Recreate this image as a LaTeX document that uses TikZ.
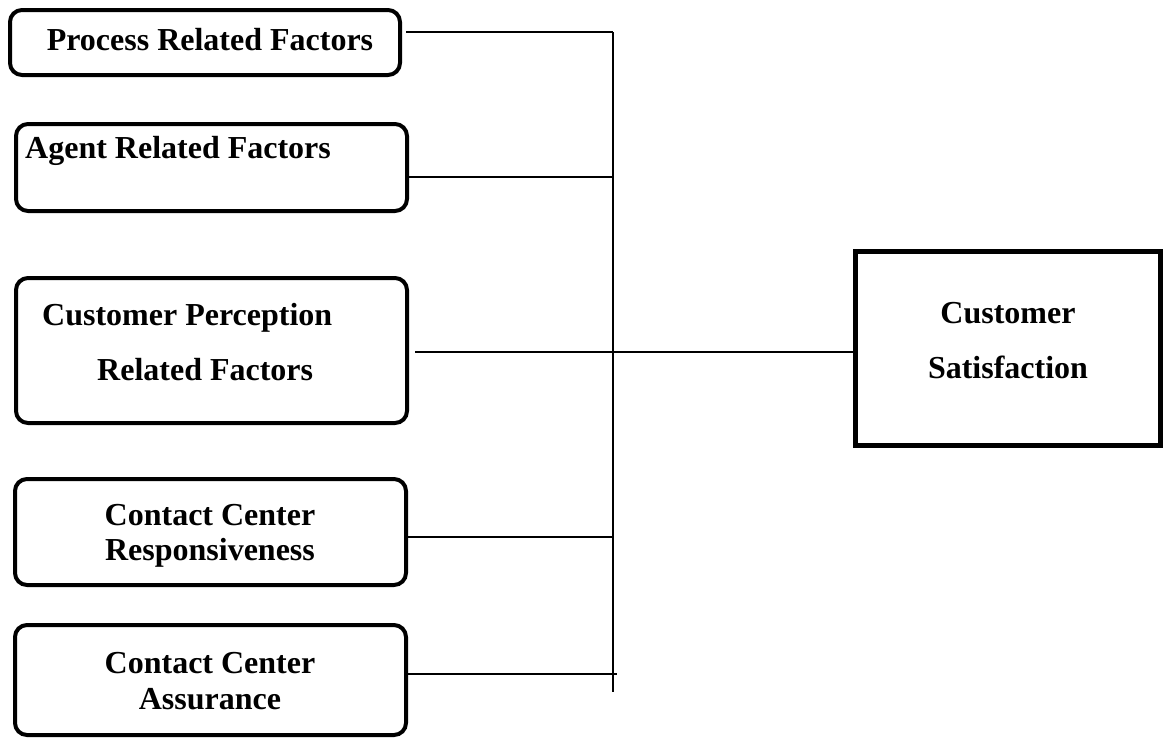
\documentclass[tikz,border=0pt]{standalone}
\usepackage{fontspec}
\setmainfont{Liberation Serif}
\usetikzlibrary{positioning}
\tikzset{factor/.style={draw, rounded corners=12pt, line width=4pt, inner sep=0pt, minimum width=391pt}}
\tikzset{outcome/.style={draw, line width=5pt, inner sep=0pt}}
\tikzset{lbl/.style={font=\fontsize{32}{38}\selectfont\bfseries, inner sep=0pt}}
\tikzset{link/.style={line width=2pt}}

\begin{document}
\begin{tikzpicture}[x=1pt,y=-1pt]
\useasboundingbox (0,0) rectangle (1167,739);

\node[factor, minimum width=390pt, minimum height=65pt] (proc) at (205,42.5) {};
\node[factor, minimum height=87pt] (agent) at (211.5,167.5) {};
\node[factor, minimum height=145pt] (perc) at (211.5,350.5) {};
\node[factor, minimum height=106pt] (resp) at (210.5,532) {};
\node[factor, minimum height=110pt] (assur) at (210.5,680) {};
\node[outcome, minimum width=305pt, minimum height=194pt] (sat) at (1008,348.5) {};

\node[lbl, anchor=base] (proct) at (210,50) {Process Related Factors};
\node[lbl, anchor=base west] (agentt) at (25,158) {Agent Related Factors};
\node[lbl, anchor=base west] (perct1) at (42,325) {Customer Perception};
\node[lbl, anchor=base west] (perct2) at (97,380) {Related Factors};
\node[lbl, anchor=base] (respt1) at (210,525) {Contact Center};
\node[lbl, anchor=base] (respt2) at (210,560) {Responsiveness};
\node[lbl, anchor=base] (assurt1) at (210,673) {Contact Center};
\node[lbl, anchor=base] (assurt2) at (210,709) {Assurance};
\node[lbl, anchor=base] (satt1) at (1008,323) {Customer};
\node[lbl, anchor=base] (satt2) at (1008,378) {Satisfaction};

\coordinate (jtop) at (613,32);
\coordinate (jbot) at (613,692);
\coordinate (j2) at (613,177);
\coordinate (j3) at (415,352);
\coordinate (j4) at (613,537);
\coordinate (j5) at (617,674);

\draw[link] (jtop) -- (jbot);
\draw[link] ([xshift=4pt]proc.east |- jtop) -- (jtop);
\draw[link] (agent.east |- j2) -- (j2);
\draw[link] (j3) -- (sat.west |- j3);
\draw[link] (resp.east |- j4) -- (j4);
\draw[link] (assur.east |- j5) -- (j5);
\end{tikzpicture}
\end{document}
